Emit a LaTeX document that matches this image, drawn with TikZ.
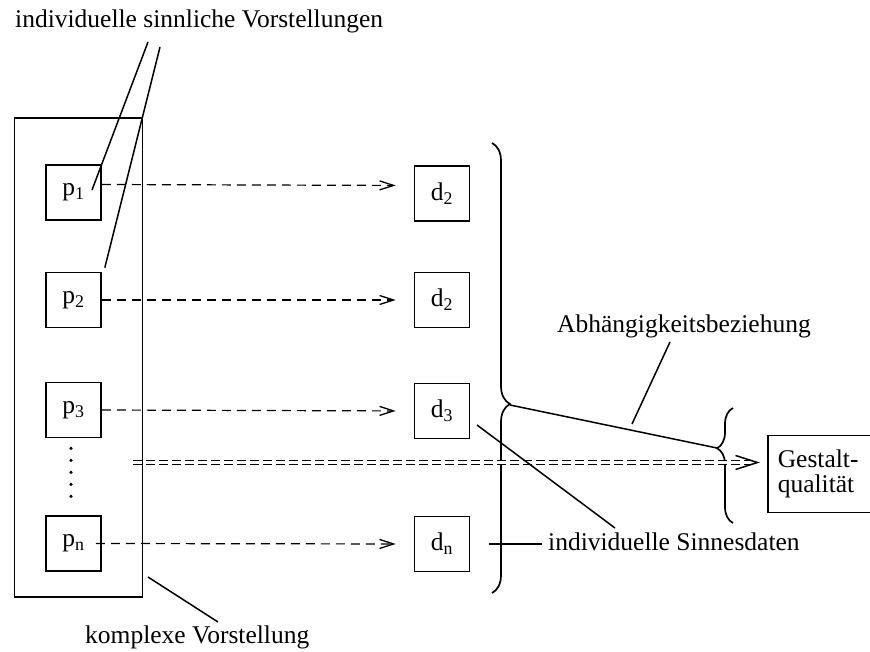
\documentclass[tikz,border=0pt]{standalone}
\usepackage{fontspec}
\setmainfont{Liberation Serif}
\usetikzlibrary{arrows.meta,decorations.pathreplacing}

\tikzset{
    sbox/.style={draw, line width=1.6pt, minimum width=55pt, minimum height=55pt, inner sep=0pt},
    leader/.style={line width=1.5pt},
    dasharrow/.style={line width=1.2pt, dash pattern=on 9pt off 6pt,
        -{Straight Barb[length=14pt,width=9pt,line width=1.3pt]}, shorten >=18pt},
    label/.style={inner sep=0pt, anchor=base west},
    curly/.style={line width=1.7pt, decorate},
}

\begin{document}
\begin{tikzpicture}[x=1pt, y=-1pt, font=\fontsize{25.5}{25}\selectfont]
    \useasboundingbox (0,0) rectangle (870,652);

    % Outer box with the p's
    \node[draw, line width=1.6pt, minimum width=128pt, minimum height=479pt, inner sep=0pt] (komplex) at (78.5,357.5) {};
    \node[sbox] (p1) at (73.5,192.5) {p\textsubscript{1}};
    \node[sbox] (p2) at (73.5,300) {p\textsubscript{2}};
    \node[sbox] (p3) at (73.5,410) {p\textsubscript{3}};
    \node[sbox] (pn) at (73.5,543.5) {p\textsubscript{n}};
    \draw[line width=3.5pt, line cap=round, dash pattern=on 0pt off 12pt]
        ([shift={(-2.5,10)}]p3.south) -- ([shift={(-2.5,-9)}]pn.north);

    % Sense data boxes
    \node[sbox] (d1) at (442,193.5) {d\textsubscript{2}};
    \node[sbox] (d2) at (442,300) {d\textsubscript{2}};
    \node[sbox] (d3) at (442,411) {d\textsubscript{3}};
    \node[sbox] (dn) at (442,544) {d\textsubscript{n}};

    % Dashed arrows p -> d
    \draw[dasharrow] ([yshift=8pt]p1.east) -- ([yshift=8pt]d1.west);
    \draw[dasharrow] (p2.east) -- (d2.west);
    \draw[dasharrow] (p3.east) -- (d3.west);
    \draw[dasharrow] ([xshift=-6pt]pn.east) -- (dn.west);

    % Braces
    \draw[curly, decoration={brace, amplitude=18pt, aspect=0.58}] (492,143) -- (492,593);
    \coordinate (bigtip) at (510,405);
    \draw[curly, decoration={brace, amplitude=16pt, aspect=0.65}] (733,523) -- (733,408);
    \coordinate (smalltip) at (717,448);
    \draw[leader] (bigtip) -- (smalltip);

    % Gestalt quality box and double arrow
    \node[draw, line width=1.6pt, anchor=west, minimum height=77pt, text width=115pt,
        inner xsep=10pt, inner ysep=0pt, align=left] (gestalt) at (767,474) {Gestalt-\\qualität};
    \coordinate (dstart) at (133,462.5);
    \draw[line width=1.2pt, double distance=3pt, dash pattern=on 9pt off 4pt,
        -{Straight Barb[length=22pt,width=14pt,line width=1.5pt]}, shorten >=7pt]
        (dstart) -- (dstart -| gestalt.west);

    % Labels
    \node[label] (titel) at (15,28) {individuelle sinnliche Vorstellungen};
    \coordinate (t1) at (148,42);
    \coordinate (t2) at (160,47);
    \draw[leader] (t1) -- ([shift={(18.5,-2.5)}]p1.center);
    \draw[leader] (t2) -- ([shift={(3,-4)}]p2.north east);

    \node[label] (abh) at (557,332) {Abhängigkeitsbeziehung};
    \coordinate (a1) at (670,342);
    \coordinate (a2) at (632,424);
    \draw[leader] (a1) -- (a2);

    \node[label] (sinn) at (548,550) {individuelle Sinnesdaten};
    \draw[line width=1.4pt, shorten >=6pt] ([xshift=19pt]dn.east) -- (sinn.west |- dn.east);
    \coordinate (s1) at (477,425);
    \coordinate (s2) at (615,528);
    \draw[leader] (s1) -- (s2);

    \node[label] (kv) at (85,643) {komplexe Vorstellung};
    \coordinate (k1) at (148,577);
    \coordinate (k2) at (218,622);
    \draw[leader] (k1) -- (k2);
\end{tikzpicture}
\end{document}
